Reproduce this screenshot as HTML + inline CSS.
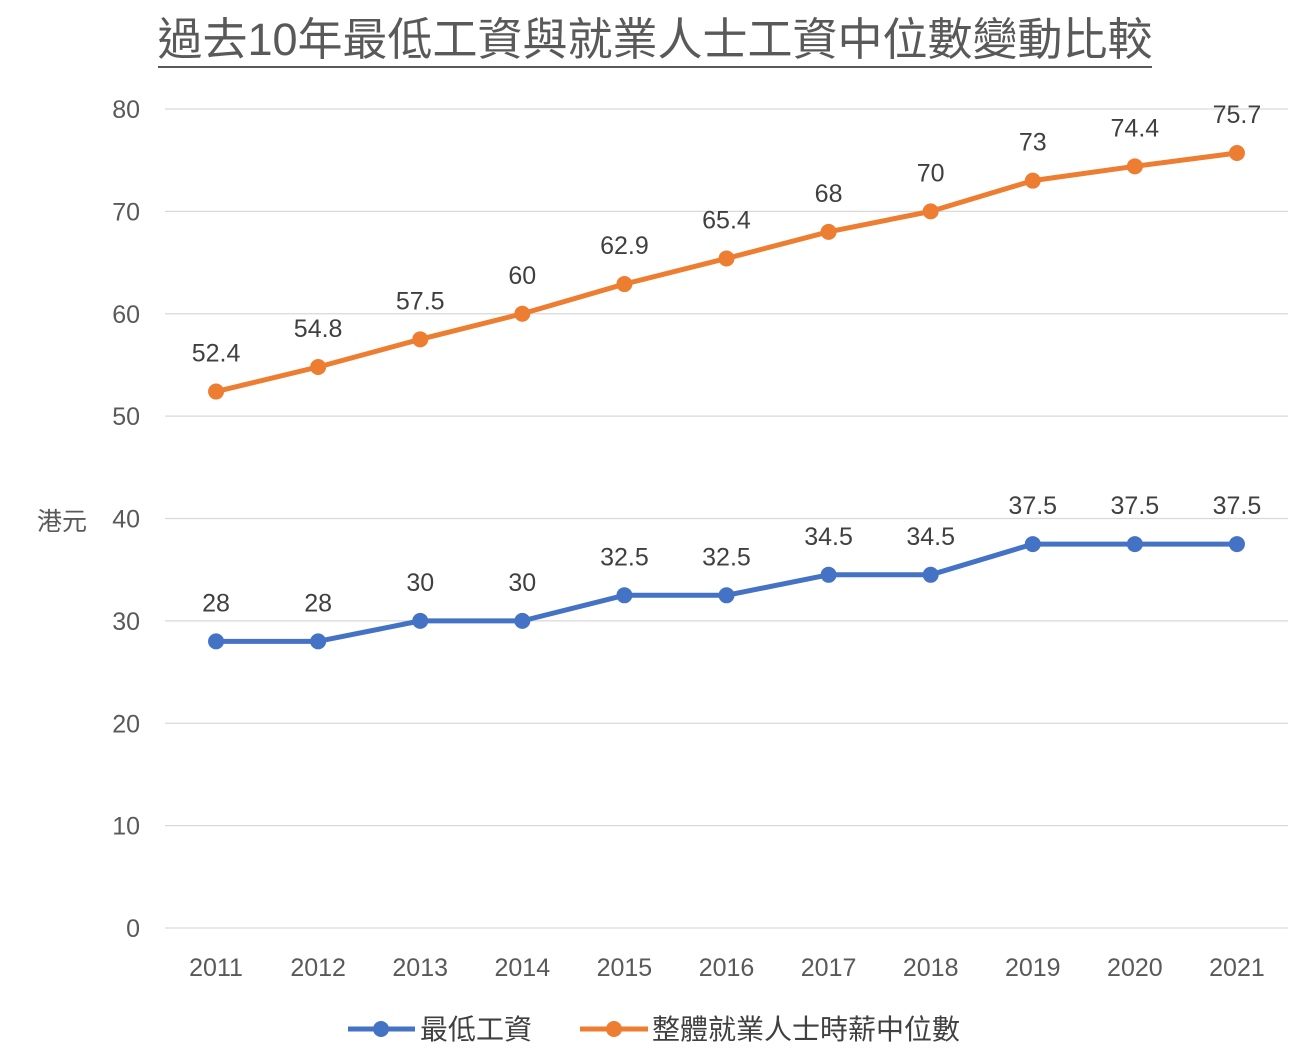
<!DOCTYPE html>
<html><head><meta charset="utf-8">
<style>
html,body{margin:0;padding:0;background:#fff;}
svg{display:block;font-family:"Liberation Sans","Noto Sans CJK TC",sans-serif;}
</style></head>
<body>
<svg id="chart" width="1308" height="1062" viewBox="0 0 1308 1062">
  <text x="655" y="55" text-anchor="middle" font-size="45" fill="#595959">過去10年最低工資與就業人士工資中位數變動比較</text>
  <line x1="158" y1="67" x2="1152" y2="67" stroke="#595959" stroke-width="2"/>
  <text x="62" y="530" text-anchor="middle" font-size="25" fill="#595959">港元</text>
  <g id="grid"></g>
  <g id="series"></g>
  <g>
    <g>
      <line x1="348" y1="1029" x2="415" y2="1029" stroke="#4472C4" stroke-width="5"/>
      <circle cx="381" cy="1029" r="8" fill="#4472C4"/>
      <text x="420" y="1039" font-size="28" fill="#404040">最低工資</text>
    </g>
    <g>
      <line x1="580" y1="1029" x2="648" y2="1029" stroke="#ED7D31" stroke-width="5"/>
      <circle cx="614" cy="1029" r="8" fill="#ED7D31"/>
      <text x="652" y="1039" font-size="28" fill="#404040">整體就業人士時薪中位數</text>
    </g>
  </g>
</svg>
<script>
const categories = ["2011","2012","2013","2014","2015","2016","2017","2018","2019","2020","2021"];
const minWage = [28,28,30,30,32.5,32.5,34.5,34.5,37.5,37.5,37.5];
const medianWage = [52.4,54.8,57.5,60,62.9,65.4,68,70,73,74.4,75.7];
const yTicks = [0,10,20,30,40,50,60,70,80];

const NS="http://www.w3.org/2000/svg";
const plotL=165, plotR=1288, yTop=109, yBot=928, yMax=80;
const xs = i => plotL + (plotR-plotL)/categories.length*(i+0.5);
const ys = v => yBot - (yBot-yTop)*v/yMax;
function mk(tag,attrs,parent){const e=document.createElementNS(NS,tag);for(const k in attrs)e.setAttribute(k,attrs[k]);parent.appendChild(e);return e;}
const grid=document.getElementById('grid'), ser=document.getElementById('series');
yTicks.forEach(t=>{
  const l=mk('line',{x1:plotL,x2:plotR,y1:ys(t),y2:ys(t),stroke:'#d9d9d9','stroke-width':1.3},grid);
  
  
  const tx=mk('text',{x:140,y:ys(t)+9,'text-anchor':'end','font-size':25,fill:'#595959'},grid);
  tx.textContent=t;
  
  
});
categories.forEach((c,i)=>{
  const tx=mk('text',{x:xs(i),y:976,'text-anchor':'middle','font-size':25,fill:'#595959'},grid);
  tx.textContent=c;
  
  
});
function drawSeries(vals,color,name){
  const g=mk('g',{},ser);
  
  
  const p=mk('polyline',{points:vals.map((v,i)=>xs(i)+','+ys(v)).join(' '),fill:'none',stroke:color,'stroke-width':5,'stroke-linejoin':'round'},g);
  
  
  vals.forEach((v,i)=>{
    const c=mk('circle',{cx:xs(i),cy:ys(v),r:8,fill:color},g);
    
    
    const t=mk('text',{x:xs(i),y:ys(v)-30,'text-anchor':'middle','font-size':25,fill:'#404040'},g);
    t.textContent=v;
    
    
  });
}
drawSeries(minWage,'#4472C4','minimum-wage-series');
drawSeries(medianWage,'#ED7D31','median-wage-series');
</script>
</body></html>
